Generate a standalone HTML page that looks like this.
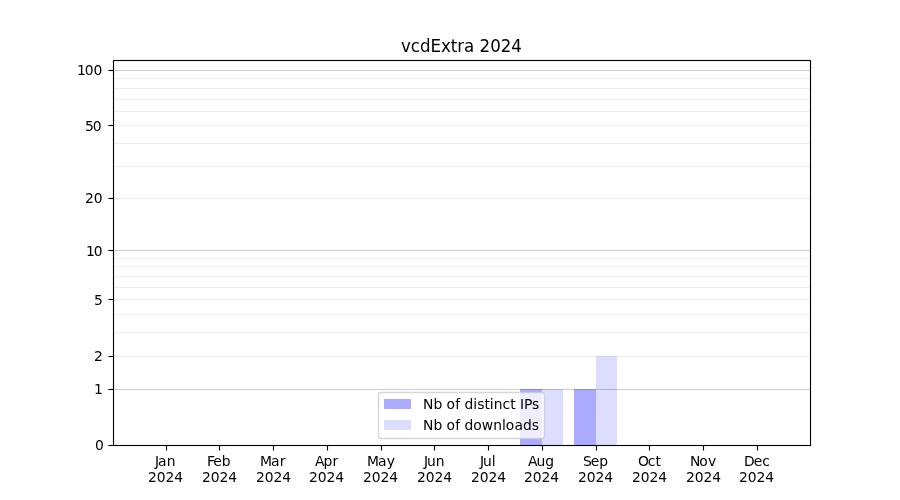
<!DOCTYPE html>
<html lang="en">
<head>
<meta charset="utf-8">
<title>vcdExtra 2024</title>
<style>
html,body{margin:0;padding:0;background:#fff;}
body{width:900px;height:500px;overflow:hidden;}
svg{display:block;}
text{font-family:"DejaVu Sans", "Liberation Sans", sans-serif;fill:#000;}
.t{font-size:13.889px;}
.title{font-size:16.667px;}
.gM{stroke:#cccccc;stroke-width:1.1111;}
.gm{stroke:#eeeeee;stroke-width:1.1111;}
.ax{stroke:#000;stroke-width:1.1111;fill:none;}
</style>
</head>
<body>
<svg width="900" height="500" viewBox="0 0 900 500">
<rect x="0" y="0" width="900" height="500" fill="#ffffff"/>
<!-- grid lines -->
<g>
<line class="gM" x1="113.5" x2="810.5" y1="70.5" y2="70.5"/>
<line class="gm" x1="113.5" x2="810.5" y1="78.5" y2="78.5"/>
<line class="gm" x1="113.5" x2="810.5" y1="88.5" y2="88.5"/>
<line class="gm" x1="113.5" x2="810.5" y1="99.5" y2="99.5"/>
<line class="gm" x1="113.5" x2="810.5" y1="111.5" y2="111.5"/>
<line class="gm" x1="113.5" x2="810.5" y1="125.5" y2="125.5"/>
<line class="gm" x1="113.5" x2="810.5" y1="143.5" y2="143.5"/>
<line class="gm" x1="113.5" x2="810.5" y1="166.5" y2="166.5"/>
<line class="gm" x1="113.5" x2="810.5" y1="198.5" y2="198.5"/>
<line class="gM" x1="113.5" x2="810.5" y1="250.5" y2="250.5"/>
<line class="gm" x1="113.5" x2="810.5" y1="258.5" y2="258.5"/>
<line class="gm" x1="113.5" x2="810.5" y1="266.5" y2="266.5"/>
<line class="gm" x1="113.5" x2="810.5" y1="276.5" y2="276.5"/>
<line class="gm" x1="113.5" x2="810.5" y1="287.5" y2="287.5"/>
<line class="gm" x1="113.5" x2="810.5" y1="299.5" y2="299.5"/>
<line class="gm" x1="113.5" x2="810.5" y1="314.5" y2="314.5"/>
<line class="gm" x1="113.5" x2="810.5" y1="332.5" y2="332.5"/>
<line class="gm" x1="113.5" x2="810.5" y1="356.5" y2="356.5"/>
<line class="gM" x1="113.5" x2="810.5" y1="389.5" y2="389.5"/>
</g>
<!-- bars -->
<g fill="#0000ff">
<rect x="520" y="389" width="22" height="56.5" opacity="0.333333"/>
<rect x="574" y="389" width="22" height="56.5" opacity="0.333333"/>
<rect x="542" y="389" width="21" height="56.5" opacity="0.1333"/>
<rect x="596" y="356" width="21" height="89.5" opacity="0.1333"/>
</g>
<!-- ticks and spines -->
<g class="ax">
<line x1="166.5" x2="166.5" y1="445.5" y2="450.5"/>
<line x1="219.5" x2="219.5" y1="445.5" y2="450.5"/>
<line x1="273.5" x2="273.5" y1="445.5" y2="450.5"/>
<line x1="327.5" x2="327.5" y1="445.5" y2="450.5"/>
<line x1="381.5" x2="381.5" y1="445.5" y2="450.5"/>
<line x1="434.5" x2="434.5" y1="445.5" y2="450.5"/>
<line x1="488.5" x2="488.5" y1="445.5" y2="450.5"/>
<line x1="542.5" x2="542.5" y1="445.5" y2="450.5"/>
<line x1="596.5" x2="596.5" y1="445.5" y2="450.5"/>
<line x1="649.5" x2="649.5" y1="445.5" y2="450.5"/>
<line x1="703.5" x2="703.5" y1="445.5" y2="450.5"/>
<line x1="757.5" x2="757.5" y1="445.5" y2="450.5"/>
<line x1="108.5" x2="113.5" y1="445.5" y2="445.5"/>
<line x1="108.5" x2="113.5" y1="389.5" y2="389.5"/>
<line x1="108.5" x2="113.5" y1="356.5" y2="356.5"/>
<line x1="108.5" x2="113.5" y1="299.5" y2="299.5"/>
<line x1="108.5" x2="113.5" y1="250.5" y2="250.5"/>
<line x1="108.5" x2="113.5" y1="198.5" y2="198.5"/>
<line x1="108.5" x2="113.5" y1="125.5" y2="125.5"/>
<line x1="108.5" x2="113.5" y1="70.5" y2="70.5"/>
<rect x="113.5" y="60.5" width="697" height="385"/>
</g>
<!-- x tick labels -->
<g>
<text class="t" x="155.07 157.9 166.67" y="466">Jan</text><text class="t" transform="translate(0 482) scale(1 1.06)" x="147.9 156.72 165.54 174.37" y="0">2024</text>
<text class="t" x="207.07 213.29 221.82" y="466">Feb</text><text class="t" transform="translate(0 482) scale(1 1.06)" x="201.9 210.72 219.54 228.37" y="0">2024</text>
<text class="t" x="259.96 270.92 279.67" y="466">Mar</text><text class="t" transform="translate(0 482) scale(1 1.06)" x="255.9 264.72 273.54 282.37" y="0">2024</text>
<text class="t" transform="translate(0 466) scale(1 1.06)" x="315.03 323.52 332.58" y="0">Apr</text><text class="t" transform="translate(0 482) scale(1 1.06)" x="308.9 317.72 326.54 335.37" y="0">2024</text>
<text class="t" x="366.96 377.92 386.67" y="466">May</text><text class="t" transform="translate(0 482) scale(1 1.06)" x="362.9 371.72 380.54 389.37" y="0">2024</text>
<text class="t" transform="translate(0 466) scale(1 1.03)" x="424.02 427.09 435.64" y="0">Jun</text><text class="t" transform="translate(0 482) scale(1 1.06)" x="416.9 425.72 434.54 443.37" y="0">2024</text>
<text class="t" x="480.05 482.88 491.68" y="466">Jul</text><text class="t" transform="translate(0 482) scale(1 1.06)" x="470.9 479.72 488.54 497.37" y="0">2024</text>
<text class="t" x="527.89 536.38 545.17" y="466">Aug</text><text class="t" transform="translate(0 482) scale(1 1.06)" x="523.9 532.72 541.54 550.37" y="0">2024</text>
<text class="t" transform="translate(0 466) scale(1 1.03)" x="583.04 590.84 599.14" y="0">Sep</text><text class="t" transform="translate(0 482) scale(1 1.06)" x="577.9 586.72 595.54 604.37" y="0">2024</text>
<text class="t" x="637.89 647.8 655.44" y="466">Oct</text><text class="t" transform="translate(0 482) scale(1 1.06)" x="631.9 640.72 649.54 658.37" y="0">2024</text>
<text class="t" transform="translate(0 466) scale(1 1.03)" x="690.03 699.16 707.89" y="0">Nov</text><text class="t" transform="translate(0 482) scale(1 1.06)" x="685.9 694.72 703.54 712.37" y="0">2024</text>
<text class="t" transform="translate(0 466) scale(1 1.06)" x="743.93 753.85 762.15" y="0">Dec</text><text class="t" transform="translate(0 482) scale(1 1.06)" x="738.9 747.72 756.54 765.37" y="0">2024</text>
</g>
<!-- y tick labels -->
<g>
<text class="t" transform="translate(0 450) scale(1 1.06)" x="95" y="0">0</text>
<text class="t" transform="translate(0 394) scale(1 1.03)" x="94.11" y="0">1</text>
<text class="t" transform="translate(0 361) scale(1 1.03)" x="93.98" y="0">2</text>
<text class="t" x="94.12" y="305">5</text>
<text class="t" x="86.04 93.86" y="256">10</text>
<text class="t" x="85.06 93.63" y="203">20</text>
<text class="t" transform="translate(0 131) scale(1 1.06)" x="84.96 92.78" y="0">50</text>
<text class="t" x="77.11 84.67 93.5" y="75">100</text>
</g>
<!-- title -->
<text class="title" transform="translate(0 52) scale(1 1.03)" x="401.02 410.87 420.02 430.6 441.13 450.74 457.26 464.12 474.32 479.62 490.21 500.81 511.15" y="0">vcdExtra 2024</text>
<!-- legend -->
<g>
<rect x="378.5" y="392.5" width="166" height="46" rx="2.78" ry="2.78" fill="#ffffff" fill-opacity="0.8" stroke="#cccccc" stroke-opacity="0.8" stroke-width="1.3889"/>
<rect x="384" y="399" width="27" height="10" fill="#0000ff" opacity="0.333333"/>
<rect x="384" y="420" width="27" height="10" fill="#0000ff" opacity="0.1333"/>
<text class="t" transform="translate(0 409) scale(1 1.06)" x="422.98 433.61 442.4 446.57 455.31 460.2 464.61 473.17 477.26 484.5 489.68 493.79 502.59 510.21 515.65 520.06 523.9 532.03" y="0">Nb of distinct IPs</text>
<text class="t" transform="translate(0 430) scale(1 1.06)" x="423.05 433.42 442.22 446.64 455.38 460.02 464.42 473.24 481.72 493.32 502.11 505.72 514.46 522.96 531.77" y="0">Nb of downloads</text>
</g>
</svg>
</body>
</html>
